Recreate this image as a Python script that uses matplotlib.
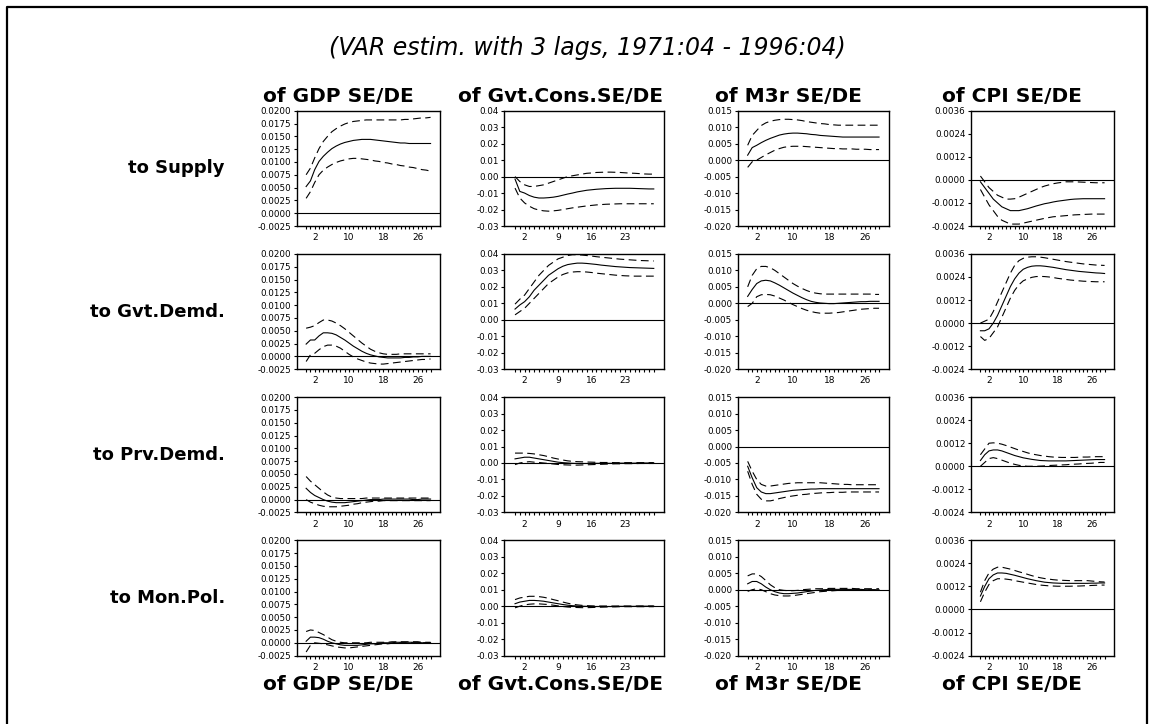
import numpy as np
import matplotlib
matplotlib.use("Agg")
import matplotlib.pyplot as plt
from matplotlib.lines import Line2D
from matplotlib.ticker import FormatStrFormatter, MultipleLocator

# horizons on the x axis
steps = np.arange(30)

shocks = ["to Supply", "to Gvt.Demd.", "to Prv.Demd.", "to Mon.Pol."]
responses = ["of GDP SE/DE", "of Gvt.Cons.SE/DE", "of M3r SE/DE", "of CPI SE/DE"]
x_tick_vals = [[2, 10, 18, 26], [2, 9, 16, 23], [2, 10, 18, 26], [2, 10, 18, 26]]

# ---- responses to Supply shock
gdp_sup = [0.0052, 0.0063, 0.0085, 0.0101, 0.0111, 0.0119, 0.0126, 0.0131, 0.0135, 0.0138,
           0.0140, 0.0142, 0.0143, 0.0144, 0.0144, 0.0144, 0.0143, 0.0142, 0.0141, 0.0140,
           0.0139, 0.0138, 0.0137, 0.0137, 0.0136, 0.0136, 0.0136, 0.0136, 0.0136, 0.0136]
gdp_sup_hi = [0.0075, 0.0088, 0.0108, 0.0126, 0.0140, 0.0150, 0.0159, 0.0165, 0.0170, 0.0174,
              0.0177, 0.0179, 0.0180, 0.0181, 0.0182, 0.0182, 0.0182, 0.0182, 0.0182, 0.0182,
              0.0182, 0.0182, 0.0182, 0.0183, 0.0183, 0.0184, 0.0185, 0.0186, 0.0186, 0.0187]
gdp_sup_lo = [0.0029, 0.0042, 0.0060, 0.0075, 0.0084, 0.0090, 0.0095, 0.0099, 0.0102, 0.0104,
              0.0106, 0.0107, 0.0107, 0.0106, 0.0105, 0.0104, 0.0102, 0.0101, 0.0099, 0.0098,
              0.0096, 0.0095, 0.0093, 0.0092, 0.0090, 0.0089, 0.0087, 0.0085, 0.0084, 0.0082]

gvt_sup = [-0.0015, -0.0090, -0.0100, -0.0115, -0.0125, -0.0130, -0.0130, -0.0128, -0.0125, -0.0120,
           -0.0113, -0.0106, -0.0100, -0.0093, -0.0088, -0.0083, -0.0080, -0.0077, -0.0075, -0.0073,
           -0.0072, -0.0071, -0.0071, -0.0071, -0.0071, -0.0072, -0.0073, -0.0074, -0.0075, -0.0075]
gvt_sup_hi = [0.0000, -0.0030, -0.0050, -0.0060, -0.0060, -0.0055, -0.0050, -0.0040, -0.0030, -0.0020,
              -0.0010, 0.0000, 0.0005, 0.0010, 0.0015, 0.0020, 0.0022, 0.0025, 0.0026, 0.0027,
              0.0027, 0.0026, 0.0025, 0.0023, 0.0021, 0.0020, 0.0018, 0.0016, 0.0015, 0.0015]
gvt_sup_lo = [-0.0070, -0.0130, -0.0160, -0.0180, -0.0195, -0.0203, -0.0208, -0.0210, -0.0208, -0.0205,
              -0.0200, -0.0195, -0.0190, -0.0186, -0.0182, -0.0178, -0.0175, -0.0172, -0.0170, -0.0168,
              -0.0167, -0.0166, -0.0165, -0.0165, -0.0165, -0.0165, -0.0165, -0.0165, -0.0165, -0.0165]

m3_sup = [0.0015, 0.0038, 0.0045, 0.0053, 0.0060, 0.0066, 0.0071, 0.0076, 0.0079, 0.0081,
          0.0082, 0.0082, 0.0081, 0.0080, 0.0078, 0.0077, 0.0075, 0.0074, 0.0073, 0.0072,
          0.0071, 0.0070, 0.0070, 0.0070, 0.0070, 0.0070, 0.0070, 0.0070, 0.0070, 0.0070]
m3_sup_hi = [0.0045, 0.0075, 0.0090, 0.0105, 0.0113, 0.0118, 0.0121, 0.0123, 0.0124, 0.0124,
             0.0123, 0.0122, 0.0120, 0.0117, 0.0115, 0.0113, 0.0111, 0.0110, 0.0108, 0.0107,
             0.0106, 0.0106, 0.0106, 0.0106, 0.0106, 0.0106, 0.0106, 0.0106, 0.0106, 0.0106]
m3_sup_lo = [-0.0022, -0.0005, 0.0000, 0.0008, 0.0016, 0.0023, 0.0030, 0.0035, 0.0039, 0.0041,
             0.0042, 0.0042, 0.0042, 0.0041, 0.0040, 0.0039, 0.0038, 0.0037, 0.0036, 0.0035,
             0.0035, 0.0034, 0.0034, 0.0034, 0.0033, 0.0033, 0.0033, 0.0032, 0.0032, 0.0032]

cpi_sup = [-0.00010, -0.00040, -0.00070, -0.00100, -0.00120, -0.00140, -0.00150, -0.00160, -0.00160, -0.00160,
           -0.00155, -0.00150, -0.00143, -0.00136, -0.00130, -0.00124, -0.00120, -0.00115, -0.00111, -0.00108,
           -0.00105, -0.00102, -0.00100, -0.00099, -0.00098, -0.00098, -0.00098, -0.00098, -0.00098, -0.00098]
cpi_sup_hi = [0.00020, -0.00010, -0.00040, -0.00060, -0.00080, -0.00090, -0.00100, -0.00100, -0.00098, -0.00090,
              -0.00080, -0.00070, -0.00060, -0.00050, -0.00040, -0.00032, -0.00026, -0.00020, -0.00016, -0.00013,
              -0.00010, -0.00010, -0.00010, -0.00011, -0.00012, -0.00013, -0.00014, -0.00015, -0.00015, -0.00015]
cpi_sup_lo = [-0.00050, -0.00090, -0.00130, -0.00160, -0.00190, -0.00210, -0.00220, -0.00230, -0.00230, -0.00230,
              -0.00225, -0.00220, -0.00215, -0.00210, -0.00205, -0.00200, -0.00196, -0.00192, -0.00190, -0.00188,
              -0.00186, -0.00184, -0.00182, -0.00181, -0.00180, -0.00179, -0.00178, -0.00178, -0.00178, -0.00178]

# ---- responses to Gvt. demand shock
gdp_gvt = [0.0024, 0.0032, 0.0032, 0.0040, 0.0046, 0.0046, 0.0045, 0.0042, 0.0037, 0.0032,
           0.0026, 0.0020, 0.0015, 0.0010, 0.0006, 0.0003, 0.0001, -0.0001, -0.0002, -0.0003,
           -0.0003, -0.0003, -0.0003, -0.0002, -0.0002, -0.0001, -0.0001, 0.0000, 0.0000, 0.0000]
gdp_gvt_hi = [0.0055, 0.0057, 0.0060, 0.0066, 0.0071, 0.0071, 0.0069, 0.0065, 0.0060, 0.0054,
              0.0047, 0.0040, 0.0033, 0.0026, 0.0020, 0.0014, 0.0010, 0.0007, 0.0005, 0.0004,
              0.0004, 0.0004, 0.0005, 0.0005, 0.0005, 0.0005, 0.0005, 0.0005, 0.0005, 0.0005]
gdp_gvt_lo = [-0.0010, 0.0003, 0.0006, 0.0013, 0.0019, 0.0022, 0.0022, 0.0020, 0.0016, 0.0010,
              0.0004, -0.0001, -0.0005, -0.0008, -0.0011, -0.0013, -0.0014, -0.0015, -0.0015, -0.0014,
              -0.0013, -0.0012, -0.0011, -0.0010, -0.0009, -0.0008, -0.0007, -0.0006, -0.0006, -0.0005]

gvt_gvt = [0.0065, 0.0090, 0.0110, 0.0140, 0.0180, 0.0210, 0.0240, 0.0270, 0.0290, 0.0310,
           0.0325, 0.0335, 0.0340, 0.0344, 0.0344, 0.0342, 0.0339, 0.0336, 0.0332, 0.0329,
           0.0326, 0.0323, 0.0321, 0.0319, 0.0317, 0.0316, 0.0315, 0.0314, 0.0313, 0.0312]
gvt_gvt_hi = [0.0095, 0.0125, 0.0150, 0.0190, 0.0230, 0.0270, 0.0300, 0.0330, 0.0350, 0.0370,
              0.0380, 0.0390, 0.0395, 0.0395, 0.0393, 0.0390, 0.0387, 0.0383, 0.0380, 0.0377,
              0.0374, 0.0371, 0.0368, 0.0366, 0.0364, 0.0362, 0.0360, 0.0359, 0.0358, 0.0357]
gvt_gvt_lo = [0.0030, 0.0050, 0.0070, 0.0100, 0.0130, 0.0160, 0.0190, 0.0220, 0.0240, 0.0260,
              0.0275, 0.0285, 0.0290, 0.0292, 0.0292, 0.0290, 0.0287, 0.0283, 0.0280, 0.0277,
              0.0274, 0.0271, 0.0269, 0.0267, 0.0266, 0.0265, 0.0265, 0.0265, 0.0265, 0.0265]

m3_gvt = [0.0021, 0.0042, 0.0060, 0.0068, 0.0070, 0.0068, 0.0062, 0.0055, 0.0047, 0.0039,
          0.0031, 0.0024, 0.0017, 0.0011, 0.0006, 0.0003, 0.0001, 0.0000, -0.0001, -0.0001,
          0.0000, 0.0001, 0.0002, 0.0003, 0.0004, 0.0005, 0.0005, 0.0006, 0.0006, 0.0006]
m3_gvt_hi = [0.0050, 0.0085, 0.0105, 0.0112, 0.0112, 0.0108, 0.0100, 0.0090, 0.0080, 0.0070,
             0.0060, 0.0052, 0.0045, 0.0039, 0.0034, 0.0031, 0.0029, 0.0028, 0.0028, 0.0028,
             0.0028, 0.0028, 0.0028, 0.0028, 0.0028, 0.0028, 0.0028, 0.0028, 0.0027, 0.0027]
m3_gvt_lo = [-0.0010, 0.0000, 0.0020, 0.0026, 0.0027, 0.0026, 0.0022, 0.0016, 0.0010, 0.0003,
             -0.0004, -0.0010, -0.0016, -0.0021, -0.0025, -0.0028, -0.0030, -0.0030, -0.0030, -0.0029,
             -0.0028, -0.0026, -0.0024, -0.0022, -0.0020, -0.0018, -0.0017, -0.0016, -0.0015, -0.0015]

cpi_gvt = [-0.00040, -0.00040, -0.00030, 0.00000, 0.00040, 0.00090, 0.00140, 0.00190, 0.00230, 0.00260,
           0.00280, 0.00290, 0.00296, 0.00298, 0.00298, 0.00296, 0.00293, 0.00290, 0.00286, 0.00282,
           0.00278, 0.00275, 0.00272, 0.00269, 0.00267, 0.00265, 0.00263, 0.00261, 0.00260, 0.00258]
cpi_gvt_hi = [0.00000, 0.00010, 0.00020, 0.00060, 0.00110, 0.00160, 0.00210, 0.00260, 0.00300, 0.00325,
              0.00337, 0.00343, 0.00345, 0.00345, 0.00343, 0.00340, 0.00336, 0.00332, 0.00328, 0.00324,
              0.00320, 0.00317, 0.00314, 0.00311, 0.00308, 0.00306, 0.00304, 0.00302, 0.00301, 0.00300]
cpi_gvt_lo = [-0.00070, -0.00090, -0.00080, -0.00050, -0.00020, 0.00030, 0.00080, 0.00130, 0.00170, 0.00200,
              0.00220, 0.00230, 0.00238, 0.00242, 0.00243, 0.00242, 0.00240, 0.00237, 0.00233, 0.00230,
              0.00227, 0.00224, 0.00222, 0.00220, 0.00218, 0.00217, 0.00216, 0.00215, 0.00215, 0.00215]

# ---- responses to Prv. demand shock
gdp_prv = [0.0022, 0.0014, 0.0008, 0.0004, 0.0000, -0.0003, -0.0005, -0.0006, -0.0006, -0.0006,
           -0.0005, -0.0004, -0.0003, -0.0002, -0.0001, 0.0000, 0.0000, 0.0000, 0.0001, 0.0001,
           0.0001, 0.0001, 0.0001, 0.0001, 0.0001, 0.0000, 0.0000, 0.0001, 0.0001, 0.0001]
gdp_prv_hi = [0.0045, 0.0036, 0.0029, 0.0022, 0.0015, 0.0009, 0.0005, 0.0003, 0.0002, 0.0002,
              0.0002, 0.0002, 0.0002, 0.0002, 0.0003, 0.0003, 0.0003, 0.0003, 0.0003, 0.0003,
              0.0003, 0.0003, 0.0003, 0.0003, 0.0003, 0.0003, 0.0003, 0.0003, 0.0003, 0.0003]
gdp_prv_lo = [0.0000, -0.0005, -0.0008, -0.0011, -0.0013, -0.0014, -0.0014, -0.0014, -0.0013, -0.0012,
              -0.0011, -0.0009, -0.0008, -0.0006, -0.0005, -0.0004, -0.0003, -0.0003, -0.0002, -0.0002,
              -0.0002, -0.0002, -0.0002, -0.0002, -0.0002, -0.0002, -0.0002, -0.0002, -0.0002, -0.0002]

gvt_prv = [0.0025, 0.0030, 0.0035, 0.0035, 0.0030, 0.0025, 0.0020, 0.0015, 0.0010, 0.0005,
           0.0002, 0.0000, -0.0002, -0.0003, -0.0003, -0.0003, -0.0003, -0.0002, -0.0002, -0.0002,
           -0.0002, -0.0002, -0.0001, -0.0001, -0.0001, -0.0001, 0.0000, 0.0000, 0.0000, 0.0000]
gvt_prv_hi = [0.0060, 0.0060, 0.0060, 0.0058, 0.0055, 0.0050, 0.0045, 0.0038, 0.0030, 0.0024,
              0.0018, 0.0013, 0.0010, 0.0008, 0.0007, 0.0006, 0.0005, 0.0004, 0.0003, 0.0003,
              0.0003, 0.0002, 0.0002, 0.0002, 0.0002, 0.0002, 0.0002, 0.0002, 0.0002, 0.0002]
gvt_prv_lo = [-0.0010, 0.0000, 0.0005, 0.0008, 0.0005, 0.0003, 0.0000, -0.0003, -0.0006, -0.0009,
              -0.0011, -0.0012, -0.0013, -0.0013, -0.0012, -0.0011, -0.0010, -0.0009, -0.0008, -0.0007,
              -0.0006, -0.0005, -0.0005, -0.0004, -0.0004, -0.0004, -0.0003, -0.0003, -0.0003, -0.0003]

m3_prv = [-0.0060, -0.0095, -0.0125, -0.0138, -0.0143, -0.0143, -0.0141, -0.0139, -0.0137, -0.0135,
          -0.0133, -0.0132, -0.0131, -0.0130, -0.0129, -0.0129, -0.0128, -0.0128, -0.0128, -0.0128,
          -0.0128, -0.0128, -0.0128, -0.0128, -0.0128, -0.0128, -0.0128, -0.0128, -0.0128, -0.0128]
m3_prv_hi = [-0.0045, -0.0075, -0.0100, -0.0115, -0.0120, -0.0120, -0.0118, -0.0116, -0.0114, -0.0112,
             -0.0111, -0.0110, -0.0110, -0.0110, -0.0110, -0.0110, -0.0110, -0.0111, -0.0112, -0.0113,
             -0.0114, -0.0115, -0.0115, -0.0116, -0.0116, -0.0116, -0.0116, -0.0116, -0.0116, -0.0116]
m3_prv_lo = [-0.0075, -0.0115, -0.0145, -0.0160, -0.0165, -0.0165, -0.0162, -0.0158, -0.0155, -0.0152,
             -0.0150, -0.0148, -0.0146, -0.0145, -0.0143, -0.0142, -0.0141, -0.0140, -0.0140, -0.0139,
             -0.0139, -0.0139, -0.0138, -0.0138, -0.0138, -0.0138, -0.0138, -0.0138, -0.0138, -0.0138]

cpi_prv = [0.00030, 0.00060, 0.00080, 0.00085, 0.00085, 0.00080, 0.00072, 0.00064, 0.00056, 0.00050,
           0.00044, 0.00040, 0.00036, 0.00033, 0.00030, 0.00029, 0.00028, 0.00028, 0.00028, 0.00028,
           0.00028, 0.00029, 0.00030, 0.00031, 0.00032, 0.00033, 0.00034, 0.00035, 0.00035, 0.00035]
cpi_prv_hi = [0.00060, 0.00090, 0.00120, 0.00122, 0.00120, 0.00115, 0.00108, 0.00100, 0.00092, 0.00084,
              0.00077, 0.00070, 0.00064, 0.00060, 0.00056, 0.00053, 0.00050, 0.00048, 0.00047, 0.00046,
              0.00046, 0.00046, 0.00046, 0.00047, 0.00048, 0.00048, 0.00049, 0.00050, 0.00050, 0.00050]
cpi_prv_lo = [0.00000, 0.00020, 0.00040, 0.00045, 0.00040, 0.00032, 0.00024, 0.00016, 0.00010, 0.00005,
              0.00002, 0.00000, 0.00000, 0.00000, 0.00001, 0.00002, 0.00004, 0.00005, 0.00006, 0.00007,
              0.00008, 0.00010, 0.00011, 0.00012, 0.00014, 0.00015, 0.00016, 0.00018, 0.00020, 0.00020]

# ---- responses to Mon. policy shock
gdp_mon = [0.0003, 0.0011, 0.0011, 0.0010, 0.0007, 0.0003, 0.0000, -0.0002, -0.0004, -0.0005,
           -0.0005, -0.0005, -0.0005, -0.0004, -0.0003, -0.0002, -0.0002, -0.0001, 0.0000, 0.0000,
           0.0000, 0.0001, 0.0001, 0.0001, 0.0001, 0.0001, 0.0001, 0.0000, 0.0000, 0.0000]
gdp_mon_hi = [0.0022, 0.0025, 0.0024, 0.0020, 0.0016, 0.0011, 0.0006, 0.0003, 0.0001, 0.0000,
              0.0000, 0.0000, 0.0000, 0.0000, 0.0000, 0.0001, 0.0001, 0.0001, 0.0001, 0.0001,
              0.0002, 0.0002, 0.0002, 0.0002, 0.0002, 0.0002, 0.0002, 0.0001, 0.0001, 0.0001]
gdp_mon_lo = [-0.0018, -0.0005, 0.0000, -0.0001, -0.0002, -0.0004, -0.0006, -0.0008, -0.0009, -0.0010,
              -0.0010, -0.0009, -0.0008, -0.0007, -0.0006, -0.0005, -0.0004, -0.0003, -0.0002, -0.0002,
              -0.0001, -0.0001, 0.0000, 0.0000, 0.0000, 0.0000, 0.0000, 0.0000, 0.0000, 0.0000]

gvt_mon = [0.0015, 0.0025, 0.0030, 0.0035, 0.0035, 0.0033, 0.0030, 0.0025, 0.0020, 0.0015,
           0.0010, 0.0006, 0.0003, 0.0001, 0.0000, -0.0001, -0.0002, -0.0002, -0.0002, -0.0002,
           -0.0002, -0.0002, -0.0001, -0.0001, -0.0001, -0.0001, 0.0000, 0.0000, 0.0000, 0.0000]
gvt_mon_hi = [0.0040, 0.0050, 0.0055, 0.0060, 0.0060, 0.0058, 0.0054, 0.0048, 0.0040, 0.0033,
              0.0025, 0.0018, 0.0012, 0.0008, 0.0005, 0.0003, 0.0002, 0.0001, 0.0001, 0.0001,
              0.0001, 0.0001, 0.0001, 0.0001, 0.0001, 0.0001, 0.0001, 0.0001, 0.0001, 0.0001]
gvt_mon_lo = [-0.0010, 0.0000, 0.0008, 0.0012, 0.0014, 0.0014, 0.0012, 0.0010, 0.0006, 0.0002,
              -0.0002, -0.0005, -0.0007, -0.0008, -0.0009, -0.0009, -0.0008, -0.0007, -0.0006, -0.0005,
              -0.0004, -0.0004, -0.0003, -0.0003, -0.0003, -0.0003, -0.0003, -0.0003, -0.0003, -0.0003]

m3_mon = [0.0018, 0.0025, 0.0025, 0.0018, 0.0008, 0.0000, -0.0006, -0.0010, -0.0012, -0.0012,
          -0.0011, -0.0010, -0.0008, -0.0006, -0.0004, -0.0002, -0.0001, 0.0000, 0.0001, 0.0001,
          0.0001, 0.0001, 0.0001, 0.0001, 0.0001, 0.0001, 0.0000, 0.0000, 0.0000, 0.0000]
m3_mon_hi = [0.0042, 0.0048, 0.0048, 0.0040, 0.0028, 0.0015, 0.0006, 0.0000, -0.0002, -0.0003,
             -0.0003, -0.0002, 0.0000, 0.0001, 0.0002, 0.0003, 0.0003, 0.0003, 0.0004, 0.0004,
             0.0004, 0.0004, 0.0004, 0.0004, 0.0003, 0.0003, 0.0003, 0.0003, 0.0003, 0.0003]
m3_mon_lo = [-0.0005, 0.0000, 0.0003, 0.0000, -0.0006, -0.0012, -0.0016, -0.0018, -0.0019, -0.0019,
             -0.0018, -0.0016, -0.0014, -0.0012, -0.0010, -0.0008, -0.0006, -0.0005, -0.0004, -0.0003,
             -0.0002, -0.0002, -0.0001, -0.0001, -0.0001, -0.0001, -0.0001, -0.0001, -0.0001, -0.0001]

cpi_mon = [0.00070, 0.00120, 0.00160, 0.00180, 0.00190, 0.00190, 0.00188, 0.00183, 0.00178, 0.00172,
           0.00166, 0.00160, 0.00155, 0.00150, 0.00146, 0.00142, 0.00140, 0.00138, 0.00137, 0.00136,
           0.00136, 0.00136, 0.00136, 0.00136, 0.00136, 0.00136, 0.00137, 0.00137, 0.00138, 0.00138]
cpi_mon_hi = [0.00090, 0.00150, 0.00190, 0.00210, 0.00220, 0.00220, 0.00215, 0.00210, 0.00203, 0.00196,
              0.00190, 0.00183, 0.00176, 0.00170, 0.00165, 0.00161, 0.00158, 0.00155, 0.00153, 0.00152,
              0.00151, 0.00150, 0.00150, 0.00150, 0.00150, 0.00150, 0.00148, 0.00146, 0.00144, 0.00143]
cpi_mon_lo = [0.00040, 0.00090, 0.00130, 0.00150, 0.00160, 0.00160, 0.00158, 0.00155, 0.00150, 0.00146,
              0.00142, 0.00138, 0.00134, 0.00130, 0.00127, 0.00125, 0.00123, 0.00122, 0.00121, 0.00121,
              0.00121, 0.00121, 0.00122, 0.00122, 0.00123, 0.00124, 0.00125, 0.00126, 0.00127, 0.00127]

# grid of (point estimate, upper band, lower band), rows = shocks, cols = responses
grid = [
    [(gdp_sup, gdp_sup_hi, gdp_sup_lo), (gvt_sup, gvt_sup_hi, gvt_sup_lo),
     (m3_sup, m3_sup_hi, m3_sup_lo), (cpi_sup, cpi_sup_hi, cpi_sup_lo)],
    [(gdp_gvt, gdp_gvt_hi, gdp_gvt_lo), (gvt_gvt, gvt_gvt_hi, gvt_gvt_lo),
     (m3_gvt, m3_gvt_hi, m3_gvt_lo), (cpi_gvt, cpi_gvt_hi, cpi_gvt_lo)],
    [(gdp_prv, gdp_prv_hi, gdp_prv_lo), (gvt_prv, gvt_prv_hi, gvt_prv_lo),
     (m3_prv, m3_prv_hi, m3_prv_lo), (cpi_prv, cpi_prv_hi, cpi_prv_lo)],
    [(gdp_mon, gdp_mon_hi, gdp_mon_lo), (gvt_mon, gvt_mon_hi, gvt_mon_lo),
     (m3_mon, m3_mon_hi, m3_mon_lo), (cpi_mon, cpi_mon_hi, cpi_mon_lo)],
]

# axis scales per response column
y_lims = [(-0.0025, 0.0200), (-0.03, 0.04), (-0.020, 0.015), (-0.0024, 0.0036)]
y_step = [0.0025, 0.01, 0.005, 0.0012]
y_fmt = ["%.4f", "%.2f", "%.3f", "%.4f"]

W, H = 1154, 724
fig = plt.figure(figsize=(W / 100, H / 100), dpi=100)
fig.patch.set_facecolor("white")

# pixel layout
col_x = [(296.7, 440.0), (504.5, 664.3), (737.7, 889.0), (971.0, 1114.0)]
col_title_x = [338, 561, 788, 1012]
row_top0, row_pitch, row_h = 110.7, 143.2, 115.3

for r in range(4):
    top = row_top0 + r * row_pitch
    for c in range(4):
        x0, x1 = col_x[c]
        ax = fig.add_axes([x0 / W, 1 - (top + row_h) / H, (x1 - x0) / W, row_h / H])
        irf, hi, lo = grid[r][c]
        ax.axhline(0, color="black", lw=0.8)
        ax.plot(steps, irf, color="black", lw=0.8)
        ax.plot(steps, hi, color="black", lw=0.8, dashes=(7, 4))
        ax.plot(steps, lo, color="black", lw=0.8, dashes=(7, 4))
        ax.set_xlim(-2.2, 31.2)
        ax.set_ylim(*y_lims[c])
        ax.yaxis.set_major_locator(MultipleLocator(y_step[c]))
        ax.yaxis.set_major_formatter(FormatStrFormatter(y_fmt[c]))
        ax.set_xticks(x_tick_vals[c])
        ax.set_xticklabels([str(v) for v in x_tick_vals[c]])
        ax.set_xticks(steps, minor=True)
        ax.tick_params(axis="x", which="both", direction="out", length=2.2, width=0.8,
                       labelsize=6.5, pad=3)
        ax.tick_params(axis="y", direction="out", length=2.5, width=0.8,
                       labelsize=6.3, pad=1.5)
        for sp in ax.spines.values():
            sp.set_linewidth(1.0)

    fig.text(225 / W, 1 - (top + row_h / 2) / H, shocks[r], ha="right", va="center",
             fontsize=13, fontweight="bold")

for c in range(4):
    fig.text(col_title_x[c] / W, 1 - 97 / H, responses[c], ha="center", va="center",
             fontsize=14.5, fontweight="bold")
    fig.text(col_title_x[c] / W, 1 - 685 / H, responses[c], ha="center", va="center",
             fontsize=14.5, fontweight="bold")

fig.text(587 / W, 1 - 48 / H, "(VAR estim. with 3 lags, 1971:04 - 1996:04)",
         ha="center", va="center", fontsize=17, style="italic")

# outer frame: top, left and right edges (open at the bottom of the picture)
fx = [7 / W, 7 / W, 1147 / W, 1147 / W]
fy = [0.0, 1 - 7 / H, 1 - 7 / H, 0.0]
fig.add_artist(Line2D(fx, fy, transform=fig.transFigure, color="black", lw=1.6))

fig.savefig("out.png", dpi=100, facecolor="white")
